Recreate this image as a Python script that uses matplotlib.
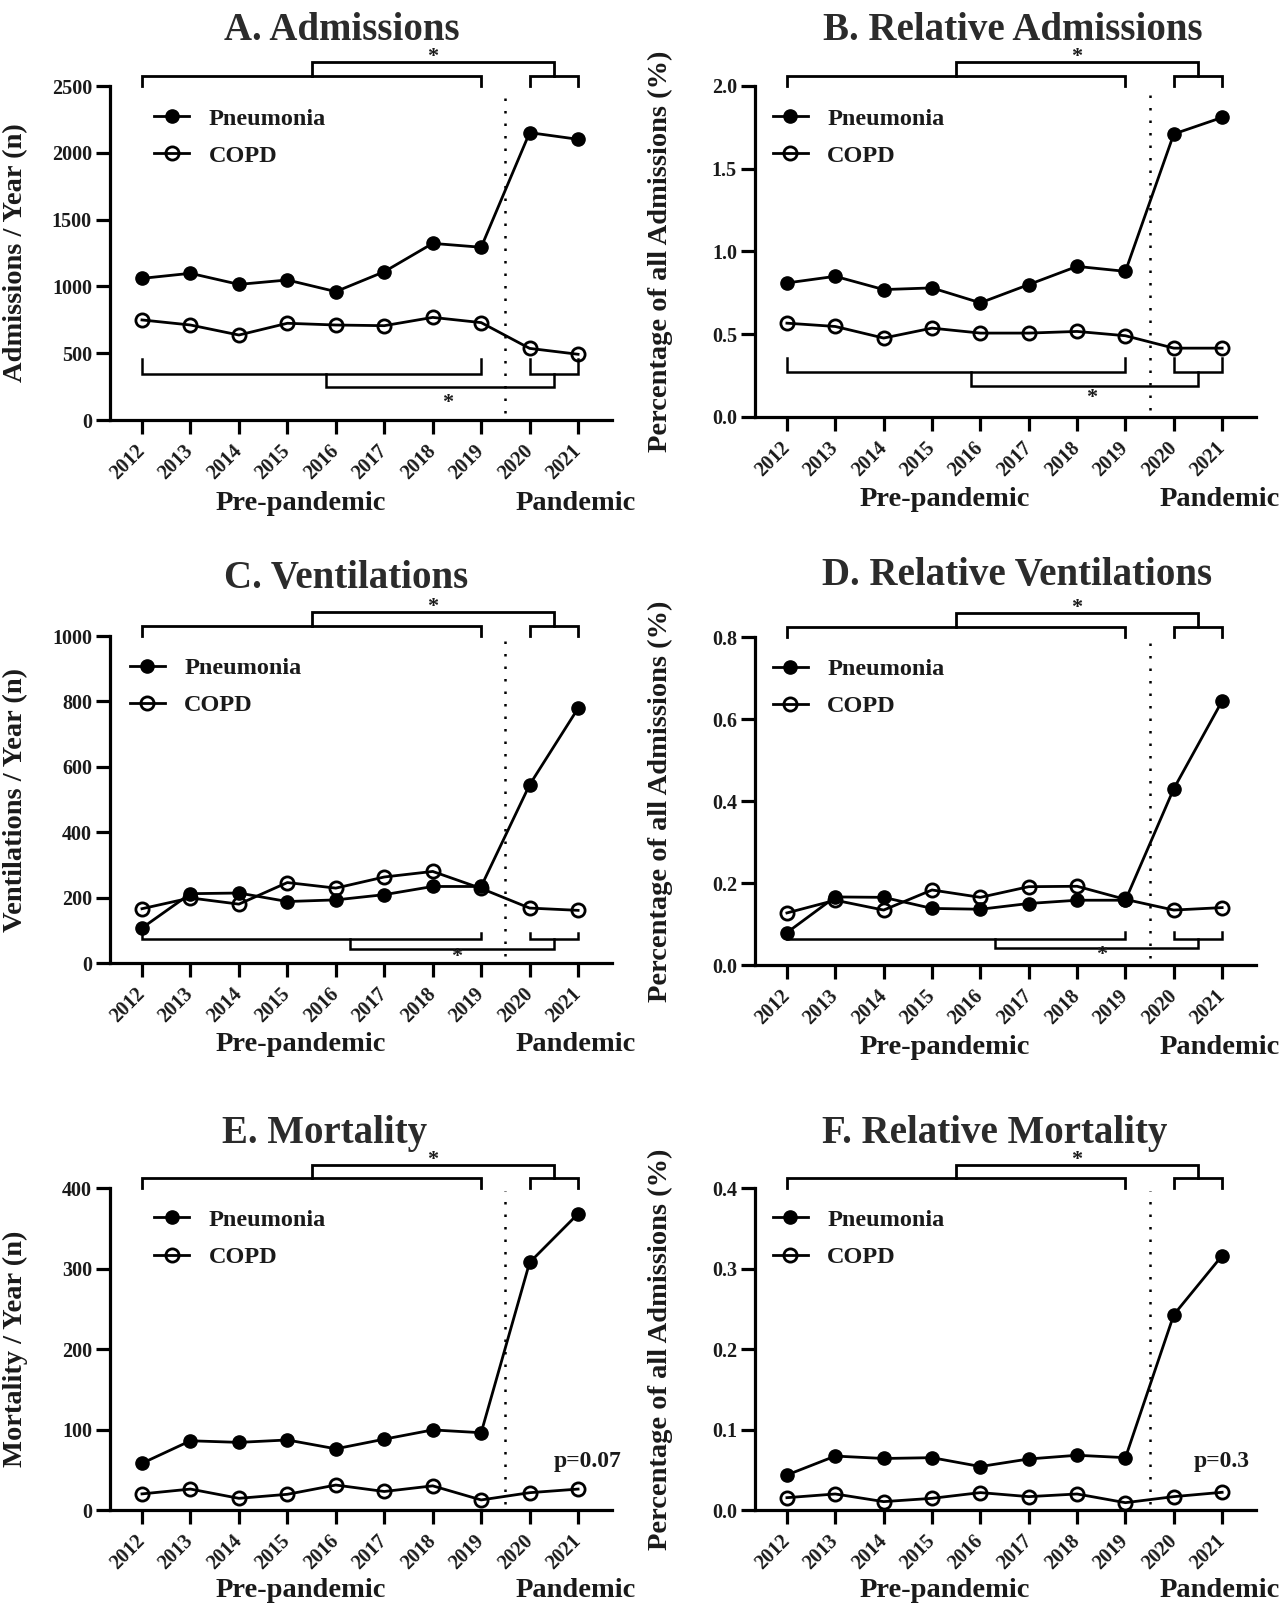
import matplotlib
matplotlib.use('Agg')
from matplotlib import pyplot as plt

plt.rcParams['font.family'] = ['Liberation Serif', 'DejaVu Serif']
plt.rcParams['font.weight'] = 'bold'
plt.rcParams['axes.labelweight'] = 'bold'

# years and tick labels
years = [2012, 2013, 2014, 2015, 2016, 2017, 2018, 2019, 2020, 2021]
year_labels = [str(y) for y in years]

# values
adm_pneu = [1060, 1098, 1015, 1048, 961, 1110, 1322, 1293, 2151, 2101]
adm_copd = [749, 711, 636, 724, 711, 706, 768, 729, 536, 492]
reladm_pneu = [0.81, 0.85, 0.77, 0.78, 0.69, 0.80, 0.91, 0.88, 1.71, 1.81]
reladm_copd = [0.567, 0.547, 0.477, 0.537, 0.507, 0.507, 0.517, 0.491, 0.416, 0.416]
vent_pneu = [107, 212, 214, 188, 193, 209, 234, 234, 545, 779]
vent_copd = [166, 199, 180, 246, 229, 263, 280, 228, 168, 161]
relvent_pneu = [0.079, 0.166, 0.165, 0.138, 0.136, 0.150, 0.158, 0.158, 0.430, 0.644]
relvent_copd = [0.127, 0.158, 0.134, 0.183, 0.165, 0.191, 0.192, 0.160, 0.134, 0.140]
mort_pneu = [58, 86, 84, 87, 76, 88, 99.5, 96, 307.5, 368]
mort_copd = [20, 26, 14.5, 19.5, 31, 23, 30, 12.5, 21.5, 26]
relmort_pneu = [0.0435, 0.067, 0.064, 0.065, 0.054, 0.0634, 0.068, 0.065, 0.2425, 0.316]
relmort_copd = [0.0153, 0.0199, 0.0104, 0.0145, 0.0216, 0.0166, 0.0199, 0.0091, 0.0166, 0.022]

titles = ['A. Admissions', 'B. Relative Admissions', 'C. Ventilations',
          'D. Relative Ventilations', 'E. Mortality', 'F. Relative Mortality']
ylabels = ['Admissions / Year (n)', 'Percentage of all Admissions (%)',
           'Ventilations / Year (n)', 'Percentage of all Admissions (%)',
           'Mortality / Year (n)', 'Percentage of all Admissions (%)']
yticks = [[0, 500, 1000, 1500, 2000, 2500], [0.0, 0.5, 1.0, 1.5, 2.0],
          [0, 200, 400, 600, 800, 1000], [0.0, 0.2, 0.4, 0.6, 0.8],
          [0, 100, 200, 300, 400], [0.0, 0.1, 0.2, 0.3, 0.4]]
ytick_fmt = ['{:.0f}', '{:.1f}', '{:.0f}', '{:.1f}', '{:.0f}', '{:.1f}']
pneu = [adm_pneu, reladm_pneu, vent_pneu, relvent_pneu, mort_pneu, relmort_pneu]
copd = [adm_copd, reladm_copd, vent_copd, relvent_copd, mort_copd, relmort_copd]
pvals = [None, None, None, None, 'p=0.07', 'p=0.3']
pval_x = [None, None, None, None, 2021.2, 2021.0]

W, H = 1286, 1619
fig = plt.figure(figsize=(W / 100, H / 100), dpi=100)

# layout in pixels: left, top, right, bottom of each axes
boxes = [(110, 86, 612, 420), (755, 86, 1256, 417),
         (110, 636, 612, 963), (755, 637, 1256, 965),
         (110, 1188, 612, 1510), (755, 1188, 1256, 1510)]
title_xy = [(342, 30), (1013, 30), (346, 578), (1017, 576), (325, 1134), (995, 1134)]
legend_x = [0.088, 0.035, 0.039, 0.035, 0.088, 0.035]
# bottom bracket geometry: arm top, horizontal, connector, connector left x, star x, star y
low_br = [(0.182, 0.138, 0.098, 2015.8, 2018.3, 0.051),
          (0.177, 0.137, 0.094, 2015.8, 2018.3, 0.056),
          (0.093, 0.072, 0.042, 2016.3, 2018.5, 0.019),
          (0.100, 0.078, 0.051, 2016.3, 2018.5, 0.030),
          None, None]

ink = '#1a1a1a'

for i in range(6):
    l, t, r, b = boxes[i]
    ax = fig.add_axes([l / W, 1 - b / H, (r - l) / W, (b - t) / H])
    tr = ax.get_xaxis_transform()

    ax.plot(years, pneu[i], color='black', lw=2, marker='o', ms=9.5,
            mfc='black', mec='black', label='Pneumonia', clip_on=False, zorder=3)
    ax.plot(years, copd[i], color='black', lw=2, marker='o', ms=9.5,
            mfc='none', mec='black', mew=2, label='COPD', clip_on=False, zorder=3)

    ax.set_xlim(2011.34, 2021.70)
    ax.set_ylim(yticks[i][0], yticks[i][-1])
    ax.set_yticks(yticks[i])
    ax.set_yticklabels([ytick_fmt[i].format(v) for v in yticks[i]])
    ax.set_xticks(years)
    ax.set_xticklabels(year_labels, rotation=45, ha='right', va='center',
                       rotation_mode='anchor')
    for s in ['top', 'right']:
        ax.spines[s].set_visible(False)
    for s in ['left', 'bottom']:
        ax.spines[s].set_linewidth(2.3)
    ax.tick_params(direction='out', length=10, width=2.3, labelsize=14.5,
                   colors='black', labelcolor=ink)
    ax.tick_params(axis='x', pad=10)
    ax.tick_params(axis='y', pad=3)

    ax.set_ylabel(ylabels[i], fontsize=20.5, color=ink)
    ax.yaxis.set_label_coords(-0.163, 0.5)

    fig.text(title_xy[i][0] / W, 1 - title_xy[i][1] / H, titles[i],
             fontsize=28, ha='center', va='center', color='#2b2b2b')

    # period labels
    ax.text(2015.27, -0.25, 'Pre-pandemic', transform=tr, ha='center',
            va='center', fontsize=20.5, color=ink)
    ax.text(2020.95, -0.25, 'Pandemic', transform=tr, ha='center',
            va='center', fontsize=20.5, color=ink)

    # dotted separator
    ax.plot([2019.5, 2019.5], [0.02, 0.99], transform=tr, color='black',
            lw=1.8, linestyle=(0, (1, 4)), clip_on=False)

    # top brackets (pneumonia)
    kw = dict(transform=tr, color='black', lw=2, clip_on=False,
              solid_joinstyle='miter')
    ax.plot([2012, 2012, 2019, 2019], [1.0, 1.03, 1.03, 1.0], **kw)
    ax.plot([2020, 2020, 2021, 2021], [1.0, 1.03, 1.03, 1.0], **kw)
    ax.plot([2015.5, 2015.5, 2020.5, 2020.5], [1.03, 1.072, 1.072, 1.03], **kw)
    ax.text(2018, 1.088, '*', transform=tr, ha='center', va='center',
            fontsize=16, color=ink)

    # bottom brackets (COPD)
    if low_br[i] is not None:
        a_top, h, c, cx, sx, sy = low_br[i]
        kw2 = dict(kw, lw=1.8)
        ax.plot([2012, 2012, 2019, 2019], [a_top, h, h, a_top], **kw2)
        ax.plot([2020, 2020, 2021, 2021], [a_top, h, h, a_top], **kw2)
        ax.plot([cx, cx, 2020.5, 2020.5], [h, c, c, h], **kw2)
        ax.text(sx, sy, '*', transform=tr, ha='center', va='center',
                fontsize=16, color=ink)

    if pvals[i]:
        ax.text(pval_x[i], 0.15, pvals[i], transform=tr, ha='center', va='center',
                fontsize=17, color=ink)

    ax.legend(loc='upper left', bbox_to_anchor=(legend_x[i], 0.935), frameon=False,
              fontsize=17.5, handlelength=1.45, handletextpad=0.8, labelspacing=0.62,
              borderaxespad=0, borderpad=0, labelcolor=ink)

fig.savefig('out.png', dpi=100)
